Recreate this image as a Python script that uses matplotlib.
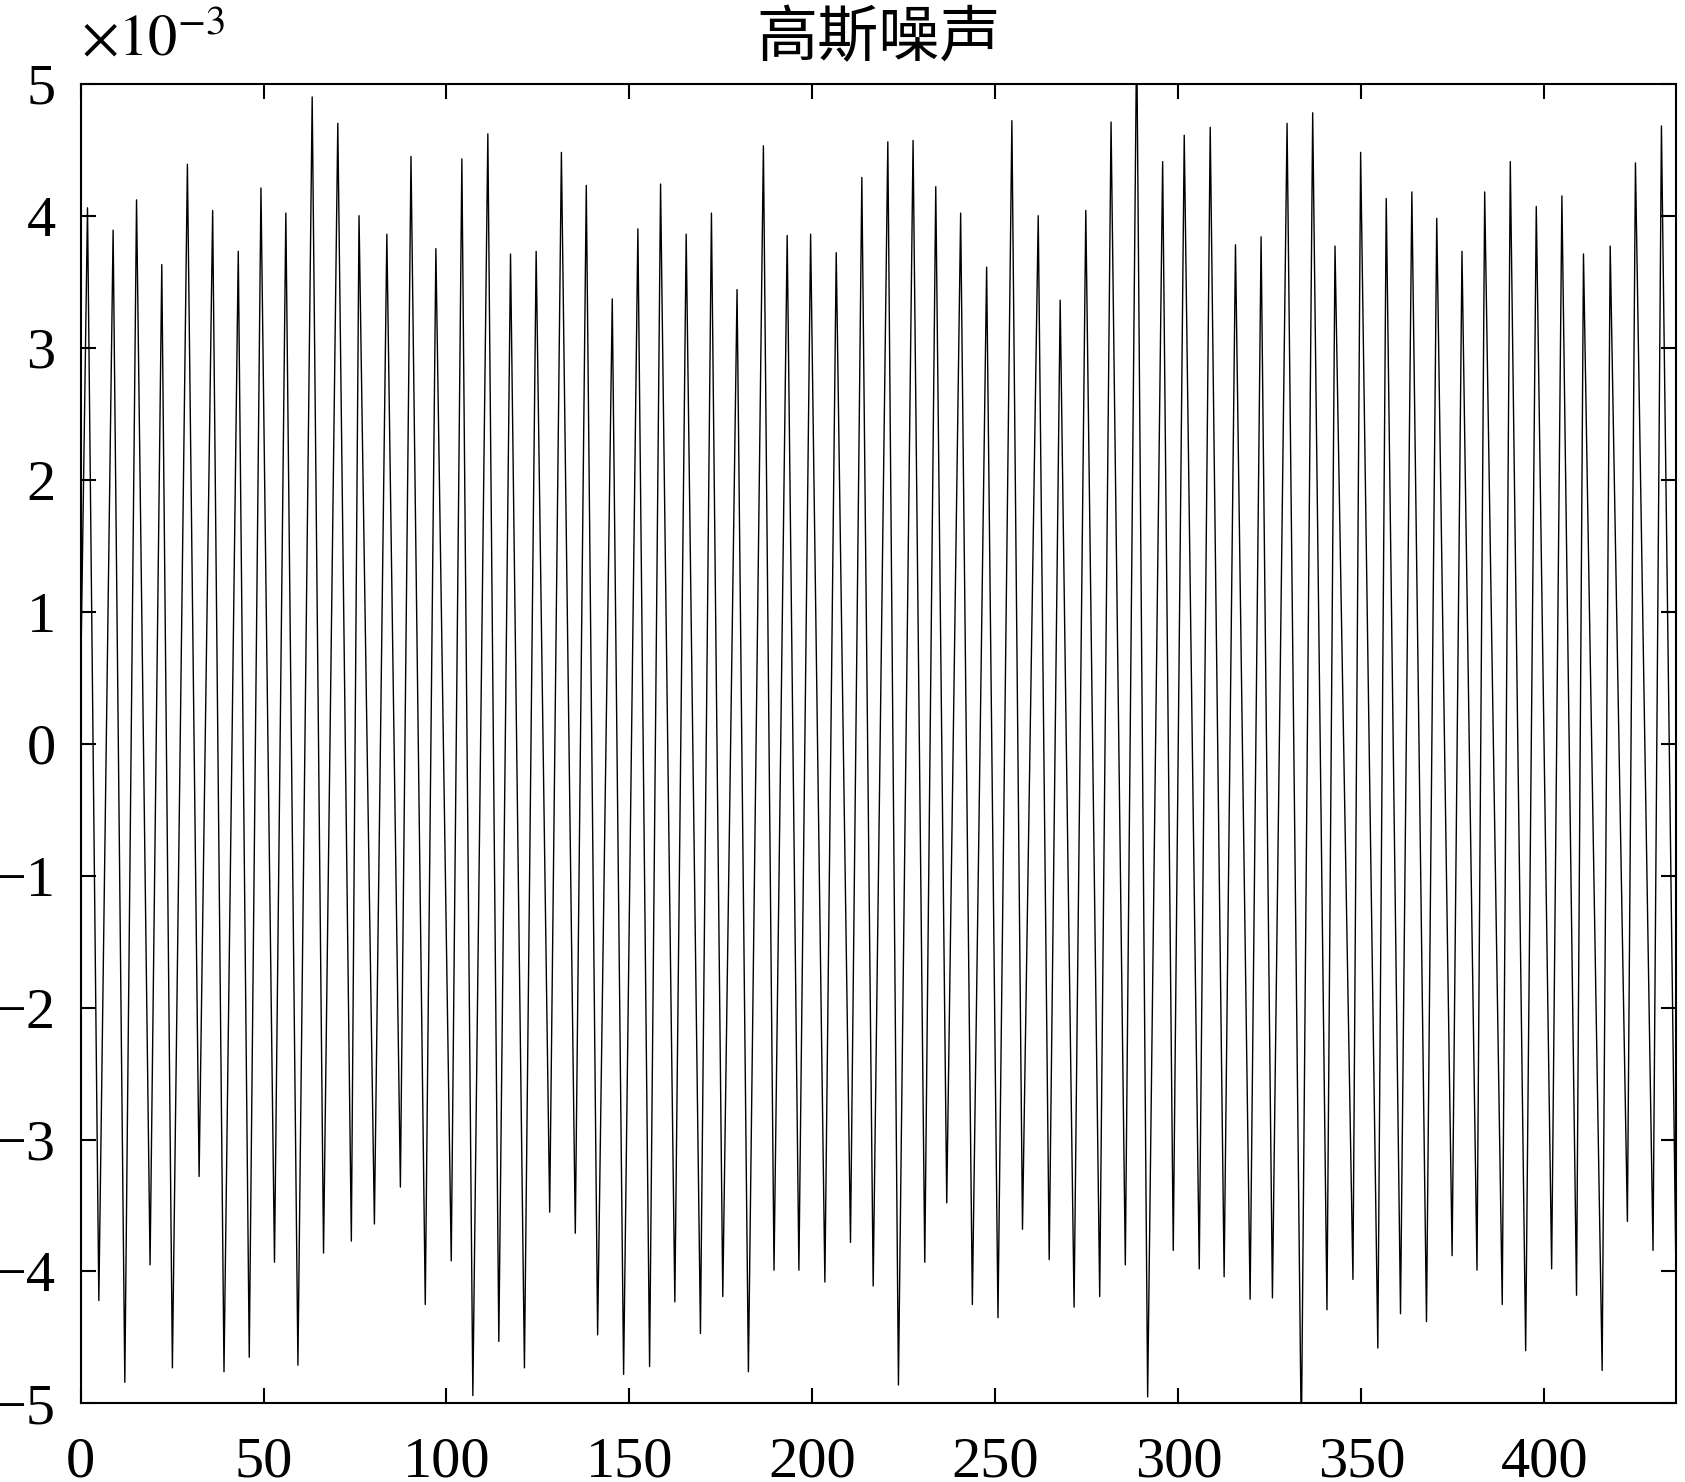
import matplotlib
matplotlib.use("Agg")
import matplotlib.pyplot as plt
import numpy as np

# peaks and troughs (values in units of 1e-3)
peak_x = [1.9, 8.9, 15.3, 22.2, 29.2, 36.1, 43.1, 49.3, 56.1, 63.3, 70.3, 76.1,
          83.7, 90.3, 97.1, 104.2, 111.3, 117.5, 124.5, 131.4, 138.2, 145.3, 152.3,
          158.5, 165.5, 172.4, 179.4, 186.6, 193.1, 199.5, 206.5, 213.5, 220.6,
          227.5, 233.7, 240.5, 247.6, 254.5, 261.7, 267.7, 274.7, 281.6, 288.6,
          295.7, 301.6, 308.7, 315.6, 322.6, 329.7, 336.7, 342.8, 349.8, 356.8,
          363.8, 370.6, 377.5, 383.7, 390.7, 397.8, 404.8, 410.7, 418.0, 424.9, 432.0]
peak_val = [4.06, 3.89, 4.12, 3.63, 4.39, 4.04, 3.73, 4.21, 4.02, 4.90, 4.70, 4.00,
            3.86, 4.45, 3.75, 4.43, 4.62, 3.71, 3.73, 4.48, 4.23, 3.37, 3.90,
            4.24, 3.86, 4.02, 3.44, 4.53, 3.85, 3.86, 3.72, 4.29, 4.56,
            4.57, 4.22, 4.02, 3.61, 4.72, 4.00, 3.36, 4.04, 4.71, 5.40,
            4.41, 4.61, 4.67, 3.78, 3.84, 4.70, 4.78, 3.77, 4.48, 4.13,
            4.18, 3.98, 3.73, 4.18, 4.41, 4.07, 4.15, 3.71, 3.77, 4.40, 4.68]

trough_x = [5.0, 12.1, 19.0, 25.1, 32.4, 39.2, 46.1, 53.0, 59.4, 66.4, 74.0, 80.3,
            87.4, 94.2, 101.3, 107.2, 114.3, 121.3, 128.2, 135.2, 141.3, 148.4,
            155.5, 162.4, 169.4, 175.5, 182.5, 189.5, 196.3, 203.4, 210.4, 216.6,
            223.5, 230.7, 236.7, 243.7, 250.7, 257.4, 264.7, 271.5, 278.5, 285.5,
            291.6, 298.6, 305.7, 312.5, 319.6, 325.7, 333.6, 340.6, 347.7, 354.5,
            360.7, 367.8, 374.8, 381.6, 388.5, 394.9, 402.0, 408.8, 415.8, 422.7,
            429.7, 436.0]
trough_val = [-4.22, -4.84, -3.95, -4.73, -3.28, -4.76, -4.65, -3.93, -4.71, -3.86,
              -3.77, -3.64, -3.36, -4.25, -3.92, -4.94, -4.53, -4.73, -3.55, -3.71,
              -4.48, -4.78, -4.72, -4.23, -4.47, -4.19, -4.76, -3.99, -3.99, -4.08,
              -3.78, -4.11, -4.86, -3.93, -3.48, -4.25, -4.35, -3.68, -3.91, -4.27,
              -4.19, -3.95, -4.95, -3.84, -3.98, -4.04, -4.21, -4.20, -5.30, -4.29,
              -4.06, -4.58, -4.32, -4.38, -3.88, -3.99, -4.25, -4.60, -3.98, -4.18,
              -4.75, -3.62, -3.84, -4.09]

start_x, start_val = 0.0, 0.4

plt.rcParams['font.family'] = ['Liberation Serif', 'DejaVu Serif']
plt.rcParams['mathtext.fontset'] = 'stix'

xs = np.array([start_x] + peak_x + trough_x)
ys = np.array([start_val] + peak_val + trough_val)
order = np.argsort(xs)
xs, ys = xs[order], ys[order]

fig = plt.figure(figsize=(16.85, 14.82), dpi=100)
ax = fig.add_axes([0.0478, 0.053, 0.9469, 0.8905])

ax.plot(xs, ys, color='black', linewidth=1.0)

ax.set_xlim(0, 436)
ax.set_ylim(-5, 5)
ax.set_xticks(np.arange(0, 401, 50))
ax.set_yticks(np.arange(-5, 6, 1))

ax.tick_params(direction='in', length=11, width=1.5, labelsize=42,
               top=True, right=True)
ax.tick_params(axis='x', pad=24)
ax.tick_params(axis='y', pad=18)
for sp in ax.spines.values():
    sp.set_linewidth(1.5)

ax.text(0.0, 1.012, r'$\times10^{-3}$', transform=ax.transAxes,
        fontsize=42, ha='left', va='bottom')

ax.set_title('高斯噪声', fontsize=44, pad=20,
             family=['Noto Sans CJK SC', 'DejaVu Sans'], fontweight='light')

fig.savefig('out.png', dpi=100)
